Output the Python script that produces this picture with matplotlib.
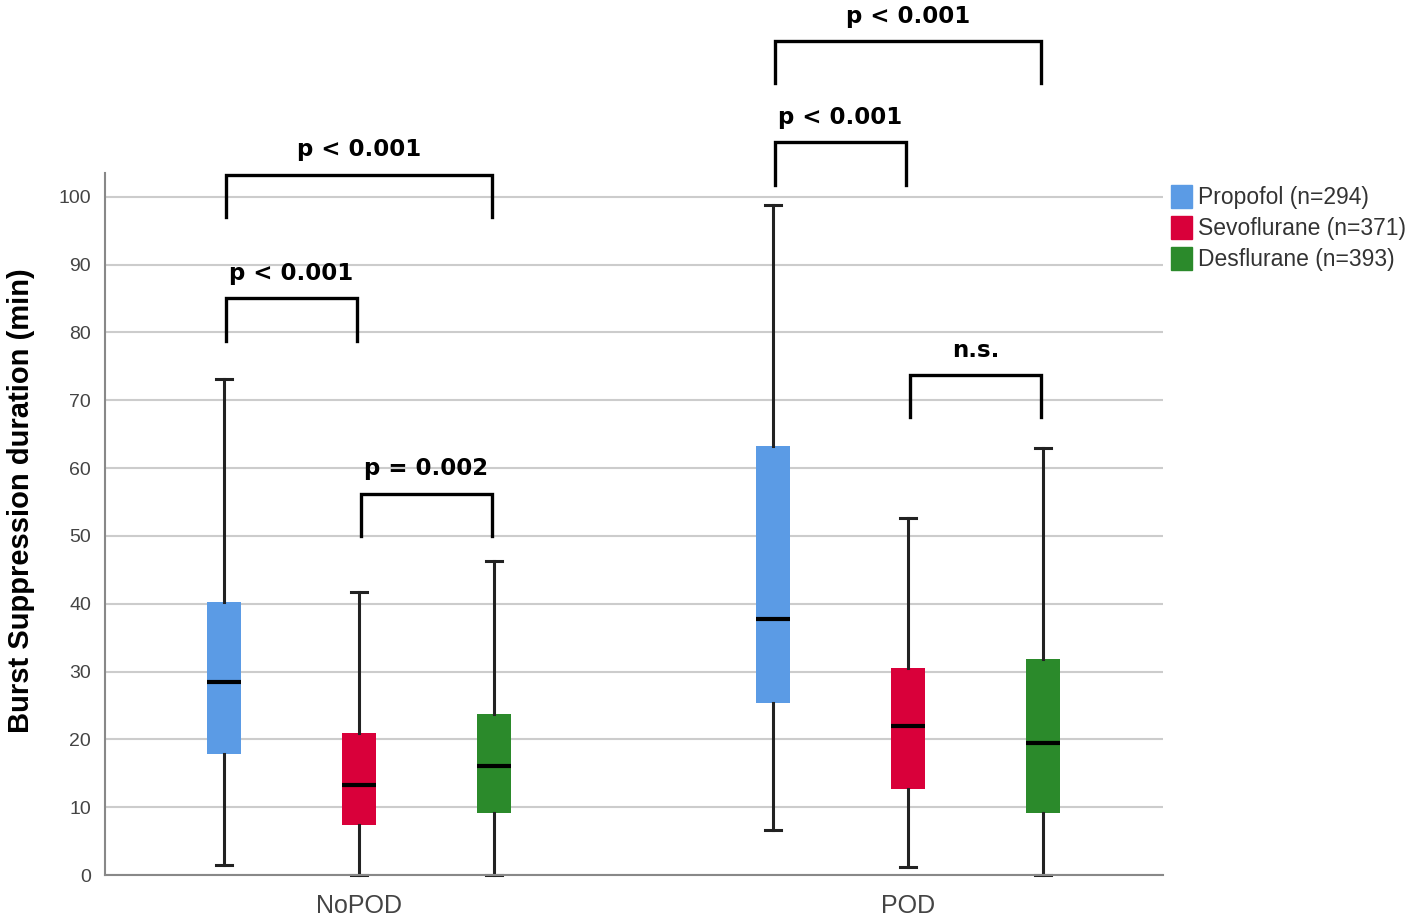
import matplotlib
matplotlib.use("Agg")
import matplotlib.pyplot as plt
from matplotlib.patches import Patch

# groups and agents
groups = ["NoPOD", "POD"]
agents = ["Propofol (n=294)", "Sevoflurane (n=371)", "Desflurane (n=393)"]
colors = ["#5B9BE5", "#D9003A", "#2B8A2B"]

# whisker low, Q1, median, Q3, whisker high (min)
nopod_low = [1.5, 0.0, 0.0]
nopod_q1 = [17.9, 7.4, 9.2]
nopod_med = [28.4, 13.2, 16.1]
nopod_q3 = [40.2, 21.0, 23.8]
nopod_high = [73.2, 41.7, 46.3]

pod_low = [6.7, 1.2, 0.0]
pod_q1 = [25.4, 12.7, 9.2]
pod_med = [37.7, 21.9, 19.5]
pod_q3 = [63.3, 30.5, 31.8]
pod_high = [98.8, 52.7, 62.9]

# significance brackets: (group, agent a, agent b, bar height, label)
brackets = [
    (0, 0, 2, 103.2, "p < 0.001"),
    (0, 0, 1, 85.0, "p < 0.001"),
    (0, 1, 2, 56.2, "p = 0.002"),
    (1, 0, 2, 122.9, "p < 0.001"),
    (1, 0, 1, 108.0, "p < 0.001"),
    (1, 1, 2, 73.7, "n.s."),
]

offset = 0.246
box_w = 0.062

fig = plt.figure(figsize=(14.17, 9.24), dpi=100)
ax = fig.add_axes([0.0741, 0.053, 0.7466, 0.7598])

data = [(nopod_low, nopod_q1, nopod_med, nopod_q3, nopod_high),
        (pod_low, pod_q1, pod_med, pod_q3, pod_high)]

for g, (lo, q1, med, q3, hi) in enumerate(data):
    stats = []
    for i in range(len(agents)):
        stats.append({"whislo": lo[i], "q1": q1[i], "med": med[i],
                      "q3": q3[i], "whishi": hi[i], "fliers": []})
    pos = [g + (i - 1) * offset for i in range(len(agents))]
    bp = ax.bxp(stats, positions=pos, widths=box_w, capwidths=0.028,
                patch_artist=True, showfliers=False, manage_ticks=False,
                boxprops=dict(linewidth=0),
                whiskerprops=dict(color="#222222", linewidth=2.2),
                capprops=dict(color="#222222", linewidth=2.2),
                medianprops=dict(color="black", linewidth=3))
    for patch, c in zip(bp["boxes"], colors):
        patch.set_facecolor(c)
        patch.set_edgecolor(c)
    for w in bp["whiskers"] + bp["caps"]:
        w.set_clip_on(False)

leg_drop = 6.2
for g, a, b, h, label in brackets:
    xa = g + (a - 1) * offset + 0.004
    xb = g + (b - 1) * offset - 0.004
    ax.plot([xa, xa, xb, xb], [h - leg_drop, h, h, h - leg_drop],
            color="black", lw=2.4, clip_on=False, solid_joinstyle="miter")
    ax.text((xa + xb) / 2, h + 2.0, label, ha="center", va="bottom",
            fontsize=16.5, fontweight="bold", clip_on=False)

ax.set_xlim(-0.4627, 1.4645)
ax.set_ylim(0, 103.5)
ax.set_yticks(range(0, 101, 10))
ax.set_xticks([0, 1])
ax.set_xticklabels(groups, fontsize=18, color="#444444",
                   family="Liberation Sans")
ax.tick_params(axis="y", length=0, labelsize=14, labelcolor="#444444", pad=10)
for t in ax.get_yticklabels():
    t.set_family("Liberation Sans")
ax.tick_params(axis="x", length=0, pad=14)
ax.grid(axis="y", color="#CCCCCC", linewidth=1.5)
ax.set_axisbelow(True)
for s in ["top", "right"]:
    ax.spines[s].set_visible(False)
for s in ["left", "bottom"]:
    ax.spines[s].set_color("#888888")
    ax.spines[s].set_linewidth(1.5)

ax.set_ylabel("Burst Suppression duration (min)", fontsize=21,
              fontweight="bold", family="Liberation Sans")
ax.yaxis.set_label_coords(-0.066, 0.534)

handles = [Patch(facecolor=c, edgecolor=c) for c in colors]
fig.legend(handles, agents, loc="upper left", bbox_to_anchor=(0.812, 0.822),
           frameon=False, handlelength=0.9, handleheight=1.15,
           handletextpad=0.25, labelspacing=0.3, labelcolor="#333333",
           prop={"family": "Liberation Sans", "size": 16.5})

fig.savefig("out.png", dpi=100)
